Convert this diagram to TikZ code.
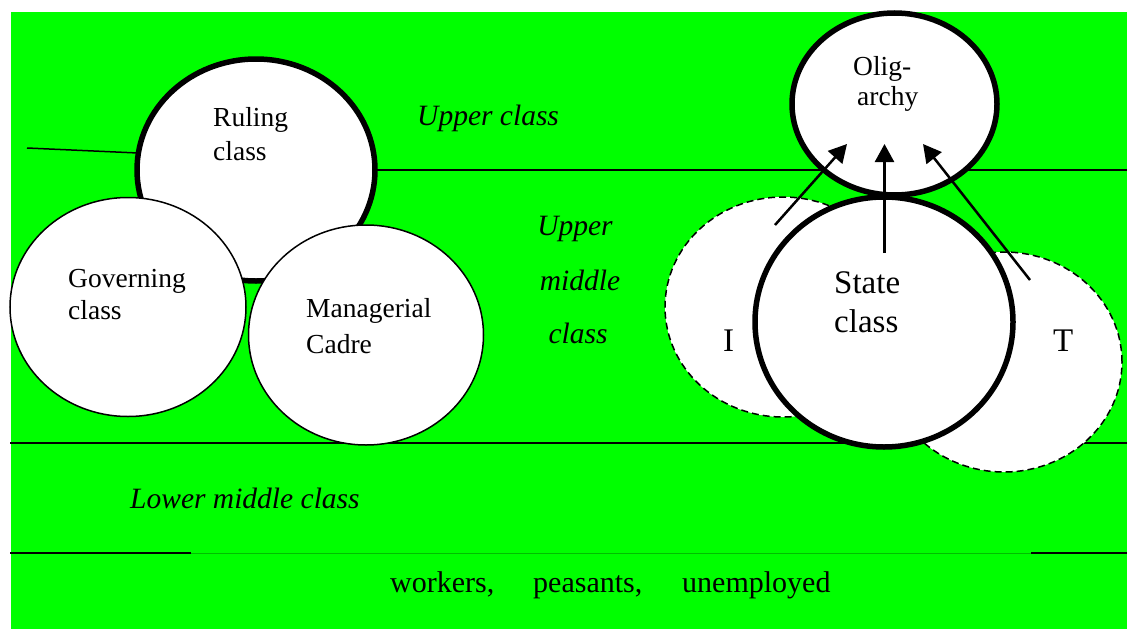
\documentclass[tikz,border=0pt]{standalone}
\usepackage{fontspec}
\setmainfont{Liberation Serif}
\usetikzlibrary{shapes.geometric,arrows.meta}
\definecolor{bggreen}{RGB}{0,255,0}
\definecolor{faintgreen}{RGB}{0,190,0}
\begin{document}
\begin{tikzpicture}[x=1pt,y=-1pt,
  classline/.style={black,line width=1.5pt},
  boldline/.style={black,line width=2.8pt},
  solidcircle/.style={ellipse,draw=black,fill=white,inner sep=0pt,line width=1.5pt},
  thickcircle/.style={ellipse,draw=black,fill=white,inner sep=0pt,line width=5.5pt},
  dashcircle/.style={ellipse,draw=black,fill=white,inner sep=0pt,line width=1.5pt,dash pattern=on 7pt off 4pt},
  risearrow/.style={black,line width=2.5pt,-{Triangle[length=18pt,width=19pt]}},
  circletext/.style={anchor=base west,inner sep=0pt,font=\fontsize{27.5}{33}\selectfont},
  bigtext/.style={anchor=base west,inner sep=0pt,font=\fontsize{33}{39}\selectfont},
  layertext/.style={anchor=base west,inner sep=0pt,font=\fontsize{29.5}{35}\selectfont\itshape},
  basetext/.style={anchor=base west,inner sep=0pt,font=\fontsize{30}{36}\selectfont}]

\useasboundingbox (0,0) rectangle (1127,629);
\fill[bggreen] (11,12) rectangle (1127,629);

% boundaries between the social layers
\coordinate (ul1) at (27,148);
\coordinate (ul2) at (138,153);
\coordinate (ur1) at (374,170);
\coordinate (ur2) at (1127,170);
\coordinate (ml1) at (10,443);
\coordinate (ml2) at (1127,443);
\coordinate (bl1) at (10,553);
\coordinate (bl2) at (191,553);
\coordinate (bl3) at (1031,553);
\coordinate (bl4) at (1127,553);
\draw[classline] (ul1) -- (ul2);
\draw[classline] (ur1) -- (ur2);
\draw[classline] (ml1) -- (ml2);
\draw[faintgreen,line width=0.8pt] (bl2) -- (bl3);
\draw[boldline] (bl1) -- (bl2);
\draw[boldline] (bl3) -- (bl4);

% groups around the state class
\node[dashcircle,minimum width=236pt,minimum height=220pt] (icirc) at (783,307) {};
\node[dashcircle,minimum width=236pt,minimum height=220pt] (tcirc) at (1004,362) {};

% elite groups on the left
\node[thickcircle,minimum width=238pt,minimum height=222pt] (ruling) at (256,170) {};
\node[solidcircle,minimum width=236pt,minimum height=219pt] (governing) at (128,307) {};
\node[solidcircle,minimum width=235pt,minimum height=220pt] (managerial) at (366,335) {};

% state class and oligarchy
\node[thickcircle,minimum width=258pt,minimum height=250pt] (state) at (884,322) {};
\node[thickcircle,minimum width=205pt,minimum height=182pt] (oligarchy) at (894.5,104) {};

% arrows rising into the oligarchy
\coordinate (a1s) at (775,225);
\coordinate (a1e) at (847,144);
\coordinate (a2s) at (884.5,253);
\coordinate (a2e) at (884.5,144);
\coordinate (a3s) at (1030,280);
\coordinate (a3e) at (923,144);
\draw[risearrow] (a1s) -- (a1e);
\draw[risearrow] (a2s) -- (a2e);
\draw[risearrow] (a3s) -- (a3e);

% labels inside the circles
\node[circletext] (t1) at (213,126) {Ruling};
\node[circletext] (t2) at (213,160) {class};
\node[circletext] (t3) at (68,287) {Governing};
\node[circletext] (t4) at (68,319) {class};
\node[circletext] (t5) at (306,317) {Managerial};
\node[circletext] (t6) at (306,353) {Cadre};
\node[circletext] (t7) at (853,75) {Olig-};
\node[circletext] (t8) at (857,105) {archy};
\node[bigtext] (t9) at (834,293) {State};
\node[bigtext] (t10) at (834,332) {class};
\node[bigtext] (t11) at (723,351) {I};
\node[bigtext] (t12) at (1053,351) {T};

% layer names
\node[layertext] (l1) at (417,125) {Upper class};
\node[layertext,anchor=base] (l2) at (575,235) {Upper};
\node[layertext,anchor=base] (l3) at (580,290) {middle};
\node[layertext,anchor=base] (l4) at (578,343) {class};
\node[layertext] (l5) at (130,508) {Lower middle class};
\node[basetext] (b1) at (390,592) {workers,};
\node[basetext] (b2) at (533,592) {peasants,};
\node[basetext] (b3) at (682,592) {unemployed};
\end{tikzpicture}
\end{document}
